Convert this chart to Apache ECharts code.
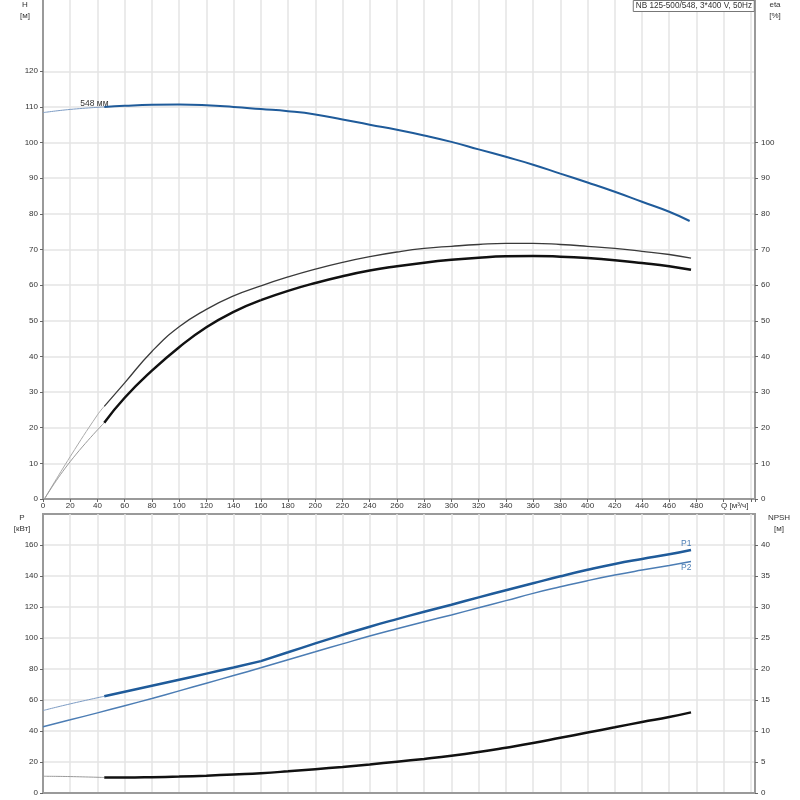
<!DOCTYPE html>
<html>
<head>
<meta charset="utf-8">
<script src="https://cdn.jsdelivr.net/npm/echarts@6/dist/echarts.min.js"></script>
<style>
  html, body { margin: 0; padding: 0; background: #fff; }
  #chart { width: 800px; height: 800px; }
</style>
</head>
<body>
<div id="chart"></div>
<script>
// ---- данные: [Q м3/ч, значение] ----
const headStart = [[0, 108.4], [20, 109.3], [45, 110.0]];
const headMain = [[45, 110.0], [60, 110.3], [80, 110.6], [100, 110.7], [120, 110.5], [140, 110.0], [160, 109.4], [180, 108.8],
  [200, 107.9], [220, 106.5], [240, 105.0], [260, 103.6], [280, 102.0], [300, 100.2], [320, 98.1], [340, 96.0],
  [360, 93.8], [380, 91.3], [400, 88.8], [420, 86.2], [440, 83.4], [460, 80.6], [475, 78.0]];

const etaUpperStart = [[1.5, 0.3], [20, 11.9], [40, 23.6], [45, 26]];
const etaUpperMain = [[45, 26], [60, 32.6], [80, 41.4], [100, 48.3], [120, 53.2], [140, 57.0], [160, 59.8], [180, 62.3],
  [200, 64.5], [220, 66.4], [240, 68.0], [260, 69.3], [280, 70.3], [300, 70.9], [320, 71.4], [340, 71.7], [360, 71.7],
  [380, 71.4], [400, 70.9], [420, 70.3], [440, 69.5], [460, 68.6], [476, 67.6]];

const etaLowerStart = [[1.5, 0.3], [20, 10.5], [45, 21.4]];
const etaLowerA = [[45, 21.4], [60, 28.4], [80, 36.0], [100, 42.6], [120, 48.2], [140, 52.5], [160, 55.8]];
const etaLowerB = [[160, 55.8], [180, 58.4], [200, 60.6], [220, 62.5], [240, 64.1], [260, 65.3], [280, 66.3], [300, 67.1],
  [320, 67.7], [340, 68.1], [360, 68.2], [380, 68.0], [400, 67.6], [420, 67.0], [440, 66.2], [460, 65.3], [476, 64.3]];

const p1Start = [[0, 53.2], [20, 57.5], [45, 62.4]];
const p1A = [[45, 62.4], [60, 65.3], [80, 69.2], [100, 73.1], [120, 77.0], [140, 81.0], [160, 85.1]];
const p1B = [[160, 85.1], [180, 90.8], [200, 96.5], [220, 102.0], [240, 107.3], [260, 112.2], [280, 116.9], [300, 121.5],
  [320, 126.2], [340, 130.8], [360, 135.3], [380, 139.8], [400, 144.0], [420, 147.8], [440, 151.0], [460, 154.0], [476, 156.8]];

const p2Curve = [[0, 42.8], [20, 47.2], [40, 51.7], [60, 56.3], [80, 61.0], [100, 65.9], [120, 70.8], [140, 75.8],
  [160, 80.8], [180, 86.0], [200, 91.1], [220, 96.2], [240, 101.3], [260, 106.0], [280, 110.5], [300, 114.9],
  [320, 119.5], [340, 124.1], [360, 128.8], [380, 133.0], [400, 137.0], [420, 140.6], [440, 143.8], [460, 146.8], [476, 149.3]];

const npshStart = [[0, 2.7], [20, 2.65], [45, 2.5]];
const npshMain = [[45, 2.5], [60, 2.5], [80, 2.55], [100, 2.65], [120, 2.8], [140, 3.0], [160, 3.2], [180, 3.5], [200, 3.85],
  [220, 4.2], [240, 4.6], [260, 5.05], [280, 5.5], [300, 6.0], [320, 6.6], [340, 7.3], [360, 8.05], [380, 8.9],
  [400, 9.75], [420, 10.6], [440, 11.45], [460, 12.25], [476, 13.0]];

const titleText = 'NB 125-500/548, 3*400 V, 50Hz';

// ---- оформление ----
const FONT = 'Liberation Sans, Arial, sans-serif';
const AXIS_GRAY = '#9a9a9a';
const GRID_GRAY = '#e4e4e4';
const BLUE = '#1f5b9a';
const BLUE_LIGHT = '#4c7db4';

const chart = echarts.init(document.getElementById('chart'));

const steps = (to, step) => Array.from({ length: to / step + 1 }, (_, i) => i * step);

function xAxisFor(gridIndex, showLabels) {
  return {
    type: 'value', gridIndex: gridIndex, min: 0, max: 523, interval: 20,
    axisLine: { show: true, lineStyle: { color: AXIS_GRAY, width: 2 } },
    axisTick: { show: showLabels, length: 3, lineStyle: { color: '#666' } },
    axisLabel: {
      show: showLabels, margin: 3, fontSize: 8, color: '#333', fontFamily: FONT,
      formatter: v => (v <= 480 ? String(v) : '')
    },
    splitLine: { show: true, lineStyle: { color: GRID_GRAY, width: 1.5 } }
  };
}

function yAxisFor(gridIndex, pos, max, interval, labelMax, grid) {
  return {
    type: 'value', gridIndex: gridIndex, position: pos, min: 0, max: max, interval: interval,
    axisLine: { show: true, lineStyle: { color: AXIS_GRAY, width: 2 } },
    axisTick: { show: true, length: 3, lineStyle: { color: '#666' }, customValues: steps(labelMax, interval) },
    axisLabel: {
      margin: pos === 'left' ? 5 : 6, fontSize: 8, color: '#333', fontFamily: FONT,
      formatter: v => (v <= labelMax ? String(v) : '')
    },
    splitLine: { show: grid, lineStyle: { color: GRID_GRAY, width: 1.5 } }
  };
}

function line(data, xi, yi, color, width, z) {
  return {
    type: 'line', xAxisIndex: xi, yAxisIndex: yi, data: data, smooth: 0.5,
    symbol: 'none', lineStyle: { color: color, width: width }, z: z || 2, silent: true
  };
}

const headStartSeries = line(headStart, 0, 0, '#7d9cc4', 1);
headStartSeries.endLabel = { show: true, formatter: '548 мм', offset: [-32, -3], fontSize: 8.5, color: '#333', fontFamily: FONT };

const p1Series = line(p1B, 1, 2, BLUE, 2.5, 4);
p1Series.endLabel = { show: true, formatter: 'P1', offset: [-18, -6], fontSize: 8.5, color: BLUE_LIGHT, fontFamily: FONT };
const p2Series = line(p2Curve, 1, 2, BLUE_LIGHT, 1.5, 3);
p2Series.endLabel = { show: true, formatter: 'P2', offset: [-18, 6], fontSize: 8.5, color: BLUE_LIGHT, fontFamily: FONT };

const txt = (x, y, s, align) => ({
  type: 'text', x: x, y: y,
  style: { text: s, fontSize: 8, fill: '#333', font: '8px ' + FONT, textAlign: align || 'center', textVerticalAlign: 'middle' }
});

chart.setOption({
  animation: false,
  backgroundColor: '#fff',
  title: {
    text: titleText, right: 45, top: 0, padding: [2, 3, 2, 3],
    borderColor: '#777', borderWidth: 1, backgroundColor: '#fff',
    textStyle: { fontSize: 8.2, fontWeight: 'normal', color: '#333', fontFamily: FONT }
  },
  grid: [
    { left: 43, right: 45, top: 0, height: 499 },
    { left: 43, right: 45, top: 514, height: 279, show: true, borderColor: AXIS_GRAY, borderWidth: 2, backgroundColor: 'transparent' }
  ],
  xAxis: [xAxisFor(0, true), xAxisFor(1, false)],
  yAxis: [
    yAxisFor(0, 'left', 140, 10, 120, true),
    yAxisFor(0, 'right', 140, 10, 100, false),
    yAxisFor(1, 'left', 180, 20, 160, true),
    yAxisFor(1, 'right', 45, 5, 40, false)
  ],
  graphic: [
    txt(25, 5, 'H'), txt(25, 16, '[м]'),
    txt(775, 5, 'eta'), txt(775, 16, '[%]'),
    txt(721, 506, 'Q [м³/ч]', 'left'),
    txt(22, 518, 'P'), txt(22, 529, '[кВт]'),
    txt(779, 518, 'NPSH'), txt(779, 529, '[м]')
  ],
  series: [
    headStartSeries,
    line(headMain, 0, 0, BLUE, 2, 3),
    line(etaUpperStart, 0, 1, '#aaaaaa', 1),
    line(etaUpperMain, 0, 1, '#3a3a3a', 1.3),
    line(etaLowerStart, 0, 1, '#999999', 1),
    line(etaLowerA, 0, 1, '#111', 2.5, 3),
    line(etaLowerB, 0, 1, '#111', 2.5, 3),
    line(p1Start, 1, 2, '#7d9cc4', 1),
    line(p1A, 1, 2, BLUE, 2.5, 4),
    p1Series,
    p2Series,
    line(npshStart, 1, 3, '#999999', 1),
    line(npshMain, 1, 3, '#111', 2.5, 3)
  ]
});
</script>
</body>
</html>
